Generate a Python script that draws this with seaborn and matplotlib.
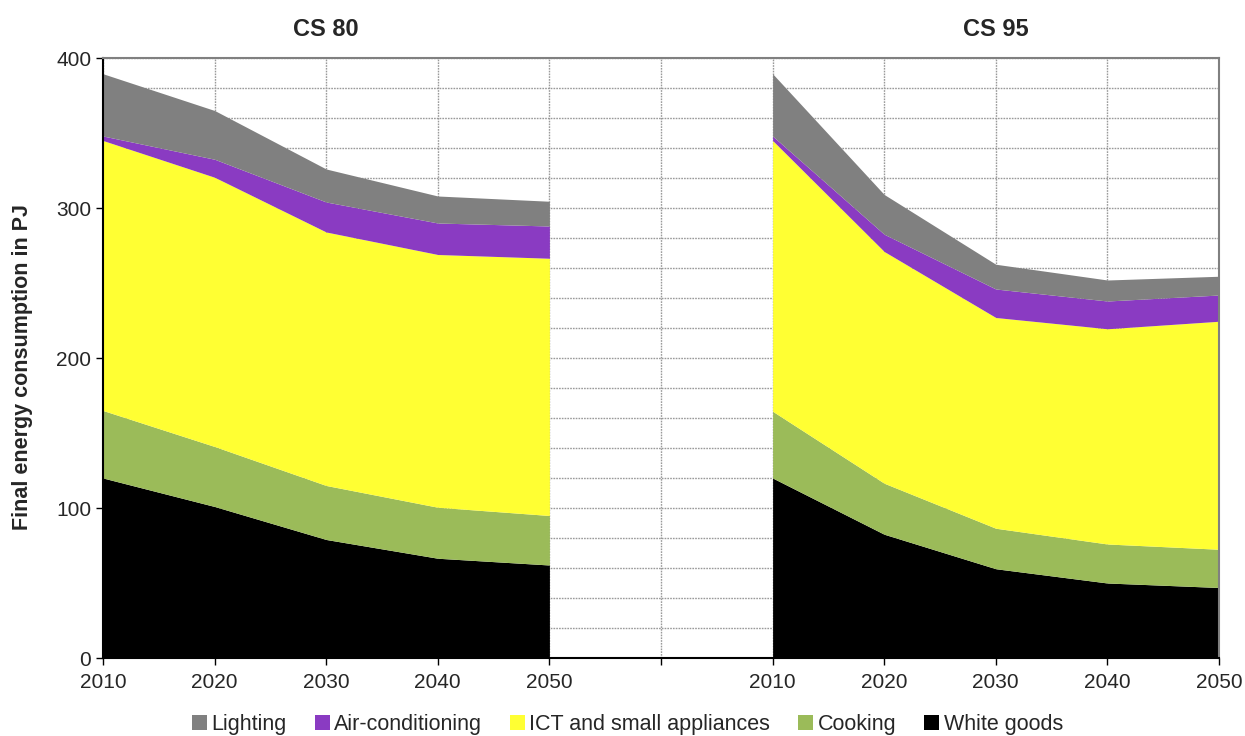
#!/usr/bin/env python3
"""Final energy consumption by appliance group, scenarios CS 80 and CS 95."""

import matplotlib
matplotlib.use("Agg")
import matplotlib.pyplot as plt
from matplotlib.patches import Patch
from matplotlib.ticker import MultipleLocator
import numpy as np
import pandas as pd
import seaborn as sns

# --- data (PJ) -------------------------------------------------------------
years = [2010, 2020, 2030, 2040, 2050]
scenarios = ["CS 80", "CS 95"]
categories = ["White goods", "Cooking", "ICT and small appliances",
              "Air-conditioning", "Lighting"]

white_goods_80 = [120, 101, 79, 66.5, 62]
cooking_80     = [45, 40, 36, 34, 33]
ict_80         = [180, 179.5, 169, 168.5, 171.5]
aircon_80      = [3, 12, 20, 21, 21.5]
lighting_80    = [41.5, 32.5, 22, 18, 16.5]

white_goods_95 = [120, 82.5, 59.5, 50, 47]
cooking_95     = [44.5, 34, 27, 26, 25.5]
ict_95         = [180.5, 154.5, 140.5, 143.5, 152]
aircon_95      = [3, 11.5, 19, 18.5, 17.5]
lighting_95    = [41.5, 26.5, 16.5, 14, 12.5]

colors = {
    "Lighting": "#808080",
    "Air-conditioning": "#8a3bc2",
    "ICT and small appliances": "#ffff33",
    "Cooking": "#9bbb59",
    "White goods": "#000000",
}

series = {
    "CS 80": [white_goods_80, cooking_80, ict_80, aircon_80, lighting_80],
    "CS 95": [white_goods_95, cooking_95, ict_95, aircon_95, lighting_95],
}

rows = []
for sc in scenarios:
    for cat, vals in zip(categories, series[sc]):
        for yr, v in zip(years, vals):
            rows.append({"scenario": sc, "year": yr, "category": cat, "value": v})
df = pd.DataFrame(rows)

# --- style ------------------------------------------------------------------
sns.set_theme(style="white")
plt.rcParams["font.family"] = ["Liberation Sans", "DejaVu Sans"]

fig = plt.figure(figsize=(12.45, 7.36), dpi=100)
ax = fig.add_axes([103 / 1245, 1 - 658 / 736, (1219 - 103) / 1245, 600 / 736])

# x slots: 0..4 for CS 80, 6..10 for CS 95, slot 5 left empty
offsets = {"CS 80": 0, "CS 95": 6}
for sc in scenarios:
    wide = df[df["scenario"] == sc].pivot(index="year", columns="category", values="value")
    x = np.arange(len(wide.index)) + offsets[sc]
    ax.stackplot(x, *[wide[c].values for c in categories],
                 colors=[colors[c] for c in categories], linewidth=0, zorder=2)
    ax.text(offsets[sc] + 2, 419, sc, ha="center", va="center",
            fontsize=17, fontweight="bold")

ax.set_xlim(0, 10)
ax.set_ylim(0, 400)
ax.set_xticks(range(11))
ax.set_xticklabels([str(y) for y in years] + [""] + [str(y) for y in years])
ax.yaxis.set_major_locator(MultipleLocator(100))
ax.yaxis.set_minor_locator(MultipleLocator(20))

ax.set_axisbelow(True)
grid_style = dict(color="#9a9a9a", linestyle=(0, (1.2, 0.8)), linewidth=1.0)
ax.grid(True, which="both", axis="y", **grid_style)
ax.grid(True, which="major", axis="x", **grid_style)

ax.tick_params(axis="both", which="major", direction="out", length=5, width=1,
               color="black", labelsize=15, bottom=True, left=True)
ax.tick_params(axis="y", which="minor", length=0)
ax.tick_params(axis="x", pad=6)

for side in ("left", "bottom"):
    ax.spines[side].set_color("black")
    ax.spines[side].set_linewidth(1.5)
for side in ("top", "right"):
    ax.spines[side].set_color("#808080")
    ax.spines[side].set_linewidth(1.5)

ax.set_ylabel("Final energy consumption in PJ", fontsize=15.5, fontweight="bold")
ax.yaxis.set_label_coords(-0.063, 0.485)

legend_order = ["Lighting", "Air-conditioning", "ICT and small appliances",
                "Cooking", "White goods"]
handles = [Patch(facecolor=colors[c], edgecolor="none", label=c) for c in legend_order]
fig.legend(handles=handles, loc="center", bbox_to_anchor=(0.504, 0.015), ncol=5,
           frameon=False, fontsize=15.5, handlelength=0.7, handleheight=0.7,
           handletextpad=0.2, columnspacing=1.3, borderaxespad=0)

fig.savefig("out.png", dpi=100)
plt.close(fig)
